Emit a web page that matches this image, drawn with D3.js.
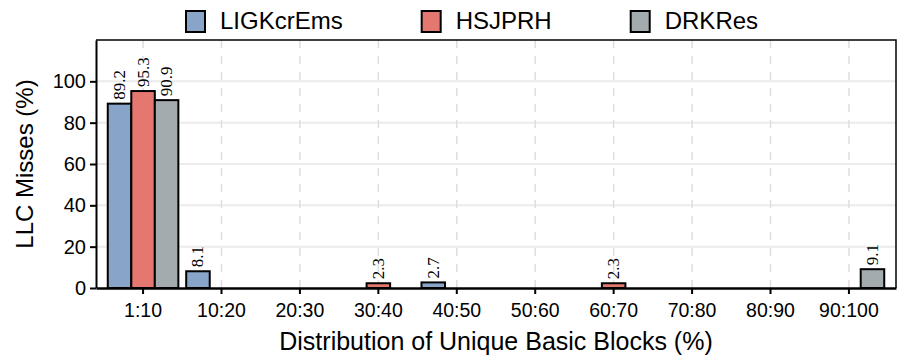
<!DOCTYPE html>
<html>
<head>
<meta charset="utf-8">
<script src="https://cdn.jsdelivr.net/npm/d3@7"></script>
<style>
  body { margin: 0; background: #fff; }
  text { font-family: "Liberation Sans", Arial, sans-serif; }
</style>
</head>
<body>
<svg id="chart" width="900" height="359"></svg>
<script>
const categories = ["1:10", "10:20", "20:30", "30:40", "40:50", "50:60", "60:70", "70:80", "80:90", "90:100"];
const seriesNames = ["LIGKcrEms", "HSJPRH", "DRKRes"];
const ligkValues = [89.2, 8.1, 0, 0, 2.7, 0, 0, 0, 0, 0];
const hsjValues = [95.3, 0, 0, 2.3, 0, 0, 2.3, 0, 0, 0];
const drkValues = [90.9, 0, 0, 0, 0, 0, 0, 0, 0, 9.1];
const yTicks = [0, 20, 40, 60, 80, 100];

const seriesValues = [ligkValues, hsjValues, drkValues];
const colors = ["#88a5c9", "#e47871", "#a3abaf"];

const svg = d3.select("#chart");
const margin = { top: 40, right: 4, bottom: 71, left: 96 };
const width = 900 - margin.left - margin.right;
const height = 359 - margin.top - margin.bottom;

const g = svg.append("g").attr("transform", `translate(${margin.left},${margin.top})`);

const x = d3.scaleBand().domain(categories).range([0, width]).paddingInner(0).paddingOuter(0.1);
const groupW = x.bandwidth() * 0.9;
const xSub = d3.scaleBand().domain(seriesNames).range([-groupW / 2, groupW / 2]);
const y = d3.scaleLinear().domain([0, 120]).range([height, 0]);

// grid
g.append("g")
  .selectAll("line")
  .data(yTicks.filter((d) => d > 0))
  .join("line")
  .attr("x1", 0)
  .attr("x2", width)
  .attr("y1", (d) => y(d))
  .attr("y2", (d) => y(d))
  .attr("stroke", "#ebebeb")
  .attr("stroke-width", 2);

g.append("g")
  .selectAll("line")
  .data(categories)
  .join("line")
  .attr("x1", (d) => x(d) + x.bandwidth() / 2)
  .attr("x2", (d) => x(d) + x.bandwidth() / 2)
  .attr("y1", 0)
  .attr("y2", height)
  .attr("stroke", "#dedede")
  .attr("stroke-width", 1.5)
  .attr("stroke-dasharray", "8,8");

// bars
const rows = [];
seriesNames.forEach((s, i) => {
  categories.forEach((c, j) => {
    if (seriesValues[i][j] > 0) rows.push({ s, c, v: seriesValues[i][j], color: colors[i] });
  });
});

g.append("g")
  .selectAll("rect")
  .data(rows)
  .join("rect")
  .attr("x", (d) => x(d.c) + x.bandwidth() / 2 + xSub(d.s))
  .attr("y", (d) => y(d.v))
  .attr("width", xSub.bandwidth())
  .attr("height", (d) => height - y(d.v))
  .attr("fill", (d) => d.color)
  .attr("stroke", "#000")
  .attr("stroke-width", 2);

g.append("g")
  .selectAll("text")
  .data(rows)
  .join("text")
  .attr("transform", (d) => {
    const cx = x(d.c) + x.bandwidth() / 2 + xSub(d.s) + xSub.bandwidth() / 2;
    return `translate(${cx + 5.5},${y(d.v) - 4}) rotate(-90)`;
  })
  .attr("text-anchor", "start")
  .style("font-family", '"Liberation Serif", "Times New Roman", serif')
  .style("font-size", "17px")
  .attr("fill", "#000")
  .text((d) => d.v.toFixed(1));

// frame
g.append("path")
  .attr("d", `M0,0H${width}V${height}`)
  .attr("fill", "none")
  .attr("stroke", "#000")
  .attr("stroke-width", 1.5);

// axes
const xAxis = g.append("g")
  .attr("transform", `translate(0,${height})`)
  .call(d3.axisBottom(x).tickSize(6).tickSizeOuter(0));
xAxis.select(".domain").attr("stroke-width", 2.5);
xAxis.selectAll(".tick line").attr("stroke-width", 2);
xAxis.selectAll(".tick text")
  .attr("dy", "1.05em")
  .attr("fill", "#000")
  .style("font-size", "19.5px")
  .style("font-family", '"Liberation Sans", Arial, sans-serif');

const yAxis = g.append("g")
  .call(d3.axisLeft(y).tickValues(yTicks).tickSize(6).tickSizeOuter(0));
yAxis.select(".domain").attr("stroke-width", 2);
yAxis.selectAll(".tick line").attr("stroke-width", 2);
yAxis.selectAll(".tick text")
  .attr("x", -10)
  .attr("fill", "#000")
  .style("font-size", "20px")
  .style("font-family", '"Liberation Sans", Arial, sans-serif');

// axis titles
svg.append("text")
  .attr("x", margin.left + width / 2)
  .attr("y", 350)
  .attr("text-anchor", "middle")
  .style("font-size", "25px")
  .text("Distribution of Unique Basic Blocks (%)");

svg.append("text")
  .attr("transform", `translate(33,${margin.top + height / 2}) rotate(-90)`)
  .attr("text-anchor", "middle")
  .style("font-size", "24px")
  .text("LLC Misses (%)");

// legend
const legend = svg.append("g").attr("transform", "translate(185,10)");
let lx = 0;
seriesNames.forEach((s, i) => {
  const item = legend.append("g").attr("transform", `translate(${lx},0)`);
  item.append("rect")
    .attr("x", 1)
    .attr("y", 1)
    .attr("width", 19)
    .attr("height", 21)
    .attr("fill", colors[i])
    .attr("stroke", "#000")
    .attr("stroke-width", 2);
  const t = item.append("text")
    .attr("x", 35)
    .attr("y", 19)
    .style("font-size", "24px")
    .text(s);
  lx += 35 + t.node().getComputedTextLength() + 78;
});
</script>
</body>
</html>
